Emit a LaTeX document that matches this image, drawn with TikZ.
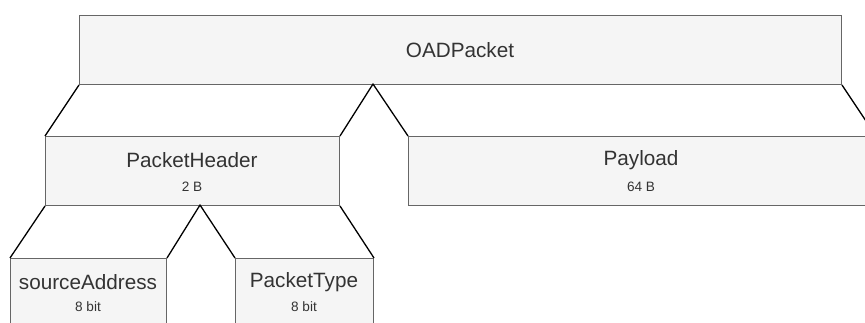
\documentclass[tikz,border=0pt]{standalone}
\usepackage{fontspec}
\setmainfont{Liberation Sans}
\definecolor{boxfill}{HTML}{F5F5F5}
\definecolor{boxline}{HTML}{666666}
\definecolor{txt}{HTML}{333333}
\begin{document}
\begin{tikzpicture}[x=1pt,y=-1pt,
  box/.style={draw=boxline, fill=boxfill, line width=1pt, rectangle, anchor=north west, inner sep=0pt},
  title/.style={text=txt, font=\fontsize{20.7}{24}\selectfont, inner sep=0pt},
  subt/.style={text=txt, font=\fontsize{13.6}{16}\selectfont, inner sep=0pt},
  conn/.style={draw=black, line width=1.3pt, line join=round}]
\useasboundingbox (0,0) rectangle (865,323);
\clip (0,0) rectangle (865,323);
% boxes
\node[box, minimum width=762pt, minimum height=69pt] (oad) at (79,15) {};
\node[box, minimum width=294pt, minimum height=69pt] (ph) at (45,136) {};
\node[box, minimum width=467pt, minimum height=69pt] (pl) at (408,136) {};
\node[box, minimum width=156pt, minimum height=69pt] (sa) at (10,258) {};
\node[box, minimum width=138pt, minimum height=69pt] (pt) at (235,258) {};
% texts
\node[title] (oadT) at (460,50) {OADPacket};
\node[title] (phT) at (192,160) {PacketHeader};
\node[subt] (phS) at (192,187) {2 B};
\node[title] (plT) at (641,160) {Payload};
\node[subt] (plS) at (641,187) {64 B};
\node[title] (saT) at (88,282) {sourceAddress};
\node[subt] (saS) at (88,307) {8 bit};
\node[title] (ptT) at (304,282) {PacketType};
\node[subt] (ptS) at (304,307) {8 bit};
% apexes
\coordinate (apexA) at (373,84);
\coordinate (apexB) at (200,205);
% connectors
\draw[conn] (oad.south west) -- (ph.north west);
\draw[conn] (ph.north east) -- (apexA) -- (pl.north west);
\draw[conn] (oad.south east) -- (pl.north east);
\draw[conn] (ph.south west) -- (sa.north west);
\draw[conn] (sa.north east) -- (apexB) -- (pt.north west);
\draw[conn] (ph.south east) -- (pt.north east);
\end{tikzpicture}
\end{document}
